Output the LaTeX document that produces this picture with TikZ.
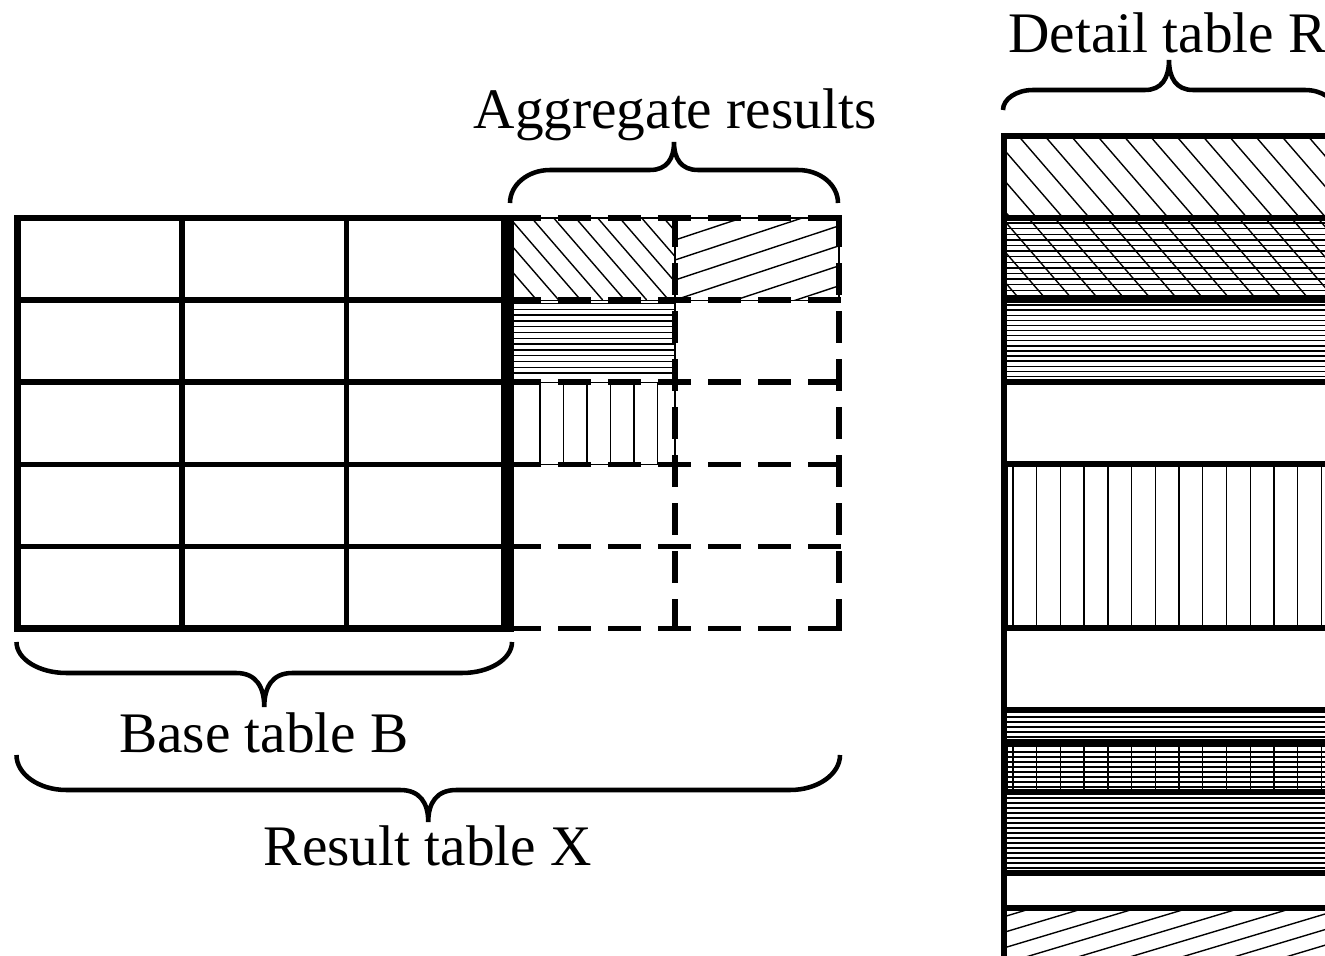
\documentclass[tikz,border=0pt]{standalone}
\usepackage{fontspec}
\setmainfont{Liberation Serif}
% horizontal curly brace: x0, x1, y of the ends, y of the bar, y of the tip, corner width, tip width
\newcommand{\drawcurly}[7]{%
  \pgfmathsetmacro{\bxm}{(#1+#2)/2}%
  \pgfmathsetmacro{\bya}{#3+0.552*(#4-#3)}%
  \pgfmathsetmacro{\byt}{#4+0.4*(#5-#4)}%
  \draw[bracestroke] (#1,#3) .. controls (#1,\bya) and (#1+0.448*#6,#4) .. (#1+#6,#4)
     -- (\bxm-#7,#4) .. controls (\bxm-0.3*#7,#4) and (\bxm,\byt) .. (\bxm,#5)
     .. controls (\bxm,\byt) and (\bxm+0.3*#7,#4) .. (\bxm+#7,#4)
     -- (#2-#6,#4) .. controls (#2-0.448*#6,#4) and (#2,\bya) .. (#2,#3);
}
\begin{document}
\begin{tikzpicture}[x=0.75pt,y=-0.75pt,
  gridline/.style={line width=4.2pt},
  hatchline/.style={line width=1.05pt},
  thinframe/.style={line width=0.9pt},
  dashrow/.style={line width=4.2pt, dash pattern=on 24.75pt off 12.75pt},
  dashcol/.style={line width=4.2pt, dash pattern=on 24pt off 12pt},
  bracestroke/.style={line width=3.4pt},
  titletext/.style={inner sep=0pt, anchor=base, font=\fontsize{43}{50}\selectfont}]
\useasboundingbox (0,0) rectangle (1325,956);
\clip (0,0) rectangle (1325,956);

% ---------- aggregate results: hatched cells ----------
\begin{scope}
  \clip (511,218) rectangle (675,300.1);
  \foreach \k in {-4,...,7} \draw[hatchline] (531.7+22*\k,218) -- ++(71,82);
\end{scope}
\begin{scope}
  \clip (675,218) rectangle (839,300.1);
  \foreach \k in {-2,...,7} \draw[hatchline] (675,240+20*\k) -- ++(165,-54.5);
\end{scope}
\foreach \k in {0,...,12} \draw[hatchline] (511,303.5+5.8*\k) -- (675,303.5+5.8*\k);
\foreach \x in {540,563.5,587,610.5,634,657.5} \draw[hatchline] (\x,382.2) -- (\x,464.3);
\draw[thinframe] (511,218) rectangle (675,300.1);
\draw[thinframe] (675,218) rectangle (839,300.1);
\draw[thinframe] (511,300.1) rectangle (675,382.2);
\draw[thinframe] (511,382.2) rectangle (675,464.3);

% ---------- aggregate results: dashed grid ----------
\foreach \y in {218,300.1,382.2,464.3,546.4,628.5} \draw[dashrow] (508,\y) -- (841,\y);
\foreach \x in {675,839} \draw[dashcol] (\x,215) -- (\x,631);

% ---------- base table B ----------
\foreach \y in {300.1,382.2,464.3,546.4} \draw[gridline] (17.5,\y) -- (511,\y);
\foreach \x in {182,346.5} \draw[gridline] (\x,218) -- (\x,628.5);
\draw[gridline, line width=4.8pt] (17.5,218) rectangle (511,628.5);
\draw[line width=9.75pt] (507.5,215) -- (507.5,631.5);

% ---------- detail table R ----------
\begin{scope}
  \clip (1004,136) rectangle (1345,218);
  \foreach \k in {-4,...,13} \draw[hatchline] (1018.5+26.3*\k,136) -- ++(71,82);
\end{scope}
\begin{scope}
  \clip (1004,218) rectangle (1345,300);
  \foreach \k in {-4,...,13} \draw[hatchline] (1028.3+26.3*\k,218) -- ++(71,82);
  \foreach \k in {0,...,13} \draw[hatchline] (1004,223+5.6*\k) -- (1345,223+5.6*\k);
\end{scope}
\foreach \k in {0,...,14} \draw[hatchline] (1004,305+5.1*\k) -- (1345,305+5.1*\k);
\foreach \k in {0,...,13} \draw[hatchline] (1013+23.72*\k,464) -- (1013+23.72*\k,628);
\draw[hatchline] (1007.5,464) -- (1007.5,628);
\foreach \k in {0,...,4} \draw[hatchline] (1004,717+5*\k) -- (1345,717+5*\k);
\foreach \k in {0,...,7} \draw[hatchline] (1004,752+5*\k) -- (1345,752+5*\k);
\foreach \k in {0,...,13} \draw[hatchline] (1013+23.72*\k,743) -- (1013+23.72*\k,792);
\draw[hatchline] (1007.5,743) -- (1007.5,792);
\foreach \k in {0,...,14} \draw[hatchline] (1004,798+5*\k) -- (1345,798+5*\k);
\begin{scope}
  \clip (1004,908) rectangle (1345,995);
  \foreach \k in {-2,...,7} \draw[hatchline] (1085+52*\k,908) -- ++(-300,90);
\end{scope}
\foreach \y in {136,218,300,382,464,628,710,792,873,908} \draw[gridline] (1004,\y) -- (1345,\y);
\draw[gridline, line width=5.5pt] (1004,743) -- (1345,743);
\draw[gridline] (1004,133) -- (1004,995);

% ---------- braces ----------
\drawcurly{510}{838}{203}{170}{142}{40}{24}
\drawcurly{1003}{1335}{110}{90}{60}{30}{24}
\drawcurly{16.5}{512}{642}{673}{707}{50}{28}
\drawcurly{16.5}{840}{755}{790}{822}{50}{28}

% ---------- titles ----------
\node[titletext] (aggtitle) at (675,128) {Aggregate results};
\node[titletext, anchor=base west] (detailtitle) at (1008,53) {Detail table R};
\node[titletext] (basetitle) at (264,752) {Base table B};
\node[titletext] (resulttitle) at (428,865) {Result table X};
\end{tikzpicture}
\end{document}
